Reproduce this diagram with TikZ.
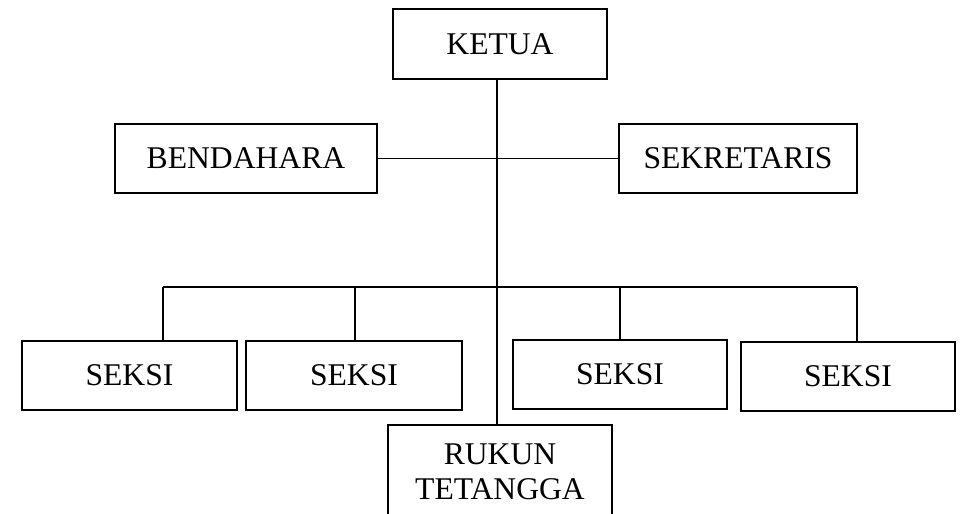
\documentclass[tikz,border=0pt]{standalone}
\usepackage{fontspec}
\setmainfont{Liberation Serif}
\usepackage{tikz}
\tikzset{
	unitbox/.style={draw, line width=0.9pt, rectangle, inner sep=0pt, outer sep=0pt, minimum height=1.38cm, align=center, font=\fontsize{18pt}{20pt}\selectfont},
	link/.style={line width=0.9pt}
}

\begin{document}
\begin{tikzpicture}[x=0.02cm, y=-0.02cm]
			%%%%% START %%%%%
			
			\useasboundingbox (0, 0) rectangle (964, 514);
			\clip (0, 0) rectangle (964, 514);
			
			\node[unitbox, minimum width=4.28cm, minimum height=1.40cm] (ketua) at (500, 44) {KETUA};
			\node[unitbox, minimum width=5.24cm] (bendahara) at (246, 158.5) {BENDAHARA};
			\node[unitbox, minimum width=4.76cm] (sekretaris) at (738, 158.5) {SEKRETARIS};
			
			\node[unitbox, minimum width=4.30cm] (seksiA) at (129.5, 375.5) {SEKSI};
			\node[unitbox, minimum width=4.32cm] (seksiB) at (354, 375.5) {SEKSI};
			\node[unitbox, minimum width=4.28cm] (seksiC) at (620, 374.5) {SEKSI};
			\node[unitbox, minimum width=4.28cm] (seksiD) at (848, 376.5) {SEKSI};
			
			\node[unitbox, minimum width=4.48cm, minimum height=1.88cm, font=\fontsize{18pt}{19.9pt}\selectfont] (rukun) at (500, 472) {RUKUN\\TETANGGA};
			
			\coordinate (spine) at (497, 0);
			\coordinate (busA) at (163, 287);
			\coordinate (busB) at (355, 287);
			\coordinate (busC) at (620, 287);
			\coordinate (busD) at (857, 287);
			
			\draw[link] (ketua.south -| spine) -- (rukun.north -| spine);
			\draw[link] (bendahara.east) -- (sekretaris.west);
			\draw[link] (busA) -- (busD);
			
			\draw[link] (busA) -- (busA |- seksiA.north);
			\draw[link] (busB) -- (busB |- seksiB.north);
			\draw[link] (busC) -- (busC |- seksiC.north);
			\draw[link] (busD) -- (busD |- seksiD.north);
			
			%%%%% END %%%%%
		\end{tikzpicture}
\end{document}
